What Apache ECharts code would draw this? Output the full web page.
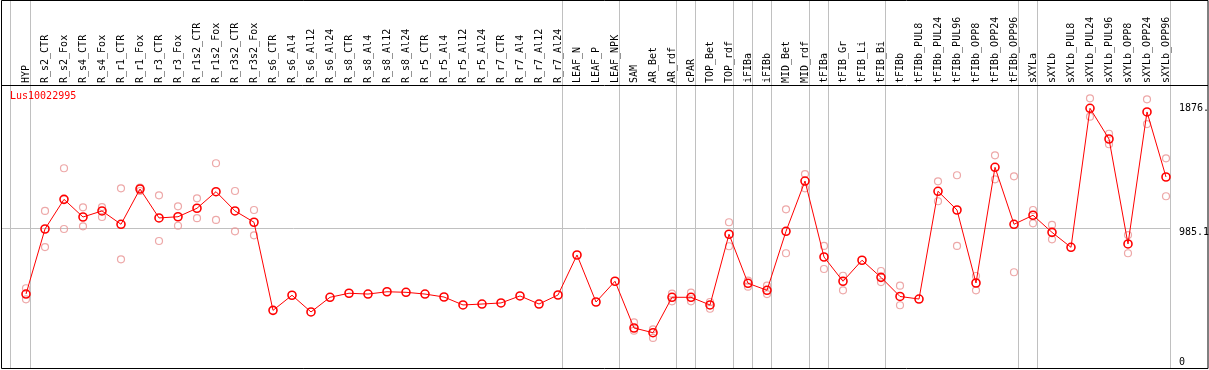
<!DOCTYPE html>
<html>
<head>
<meta charset="utf-8">
<script src="https://cdn.jsdelivr.net/npm/echarts@6/dist/echarts.min.js"></script>
<style>
html,body{margin:0;padding:0;background:#fff;}
#chart{width:1209px;height:370px;}
</style>
</head>
<body>
<div id="chart"></div>
<script>
var seriesName = 'Lus10022995';
var categories = ['HYP','R_s2_CTR','R_s2_Fox','R_s4_CTR','R_s4_Fox','R_r1_CTR','R_r1_Fox','R_r3_CTR','R_r3_Fox','R_r1s2_CTR','R_r1s2_Fox','R_r3s2_CTR','R_r3s2_Fox','R_s6_CTR','R_s6_Al4','R_s6_Al12','R_s6_Al24','R_s8_CTR','R_s8_Al4','R_s8_Al12','R_s8_Al24','R_r5_CTR','R_r5_Al4','R_r5_Al12','R_r5_Al24','R_r7_CTR','R_r7_Al4','R_r7_Al12','R_r7_Al24','LEAF_N','LEAF_P','LEAF_NPK','SAM','AR_Bet','AR_rdf','cPAR','TOP_Bet','TOP_rdf','iFIBa','iFIBb','MID_Bet','MID_rdf','tFIBa','tFIB_Gr','tFIB_Li','tFIB_Bi','tFIBb','tFIBb_PUL8','tFIBb_PUL24','tFIBb_PUL96','tFIBb_OPP8','tFIBb_OPP24','tFIBb_OPP96','sXYLa','sXYLb','sXYLb_PUL8','sXYLb_PUL24','sXYLb_PUL96','sXYLb_OPP8','sXYLb_OPP24','sXYLb_OPP96'];
var means = [497,980,1200,1069,1114,1015,1277,1062,1071,1134,1257,1114,1030,376,488,364,473,503,497,514,510,497,475,416,423,431,483,423,490,787,438,592,245,210,473,473,416,941,577,525,963,1336,772,592,748,621,479,460,1260,1121,579,1438,1015,1082,955,844,1876,1648,869,1849,1366];
var rep1 = [540,1114,1431,1141,1143,1282,1287,1230,1148,1208,1468,1262,1121,null,null,null,null,null,null,null,null,null,null,null,null,null,null,null,null,null,null,null,287,235,500,507,438,1030,596,559,1126,1388,854,633,null,668,559,null,1334,1379,631,1527,1371,1121,1010,null,1950,1687,935,1943,1505];
var rep2 = [458,846,980,1000,1069,755,1262,891,1004,1060,1047,963,933,null,null,null,null,null,null,null,null,null,null,null,null,null,null,null,null,null,null,null,225,171,443,443,388,852,552,497,800,1282,683,525,null,586,414,null,1186,854,525,1349,659,1022,903,null,1814,1609,800,1759,1223];
var tickValues = [0, 985.1, 1876];
var tickLabels = ['0', '985.1', '1876.'];
var separatorsAfter = [-1,0,28,31,34,35,37,38,39,41,42,45,52,53,60];
var refLine = 985.1;

var FONT = 'DejaVu Sans Mono';
var chart = echarts.init(document.getElementById('chart'), null, {renderer:'canvas'});

var repPts = [];
for (var i = 0; i < categories.length; i++) {
  if (rep1[i] != null) repPts.push([categories[i], rep1[i]]);
  if (rep2[i] != null) repPts.push([categories[i], rep2[i]]);
}

var option = {
  animation: false,
  backgroundColor: '#ffffff',
  title: {
    text: seriesName, left: 10, top: 91, padding: 0,
    textStyle: {color: '#ff0000', fontSize: 10, fontWeight: 'normal', fontFamily: FONT}
  },
  grid: {left: 16.5, width: 1159, top: 85, height: 284, containLabel: false, outerBoundsMode: 'none'},
  xAxis: {
    type: 'category', data: categories, position: 'top', boundaryGap: true,
    axisLine: {show: false}, axisTick: {show: false}, splitLine: {show: false},
    axisLabel: {interval: 0, rotate: 90, margin: 2, fontSize: 10, fontFamily: FONT, color: '#000'}
  },
  yAxis: {
    type: 'value', position: 'right', min: -59.4, max: 2049,
    axisLine: {show: false}, axisTick: {show: false}, splitLine: {show: false},
    axisLabel: {
      margin: 3.5, fontSize: 10, fontFamily: FONT, color: '#000', align: 'left',
      customValues: tickValues,
      formatter: function (v) {
        for (var k = 0; k < tickValues.length; k++) {
          if (Math.abs(tickValues[k] - v) < 0.01) {
            return k === 1 ? '{d|' + tickLabels[k] + '}' : (k === 0 ? '{z|' + tickLabels[k] + '}' : tickLabels[k]);
          }
        }
        return '';
      },
      rich: {
        d: {fontSize: 10, fontFamily: FONT, color: '#000', padding: [8, 0, 0, 0]},
        z: {fontSize: 10, fontFamily: FONT, color: '#000', padding: [3, 0, 0, 0]}
      }
    }
  },
  series: [
    {
      type: 'scatter', name: 'reps', data: repPts, symbol: 'circle', symbolSize: 7,
      itemStyle: {color: 'rgba(0,0,0,0)', borderColor: '#e99292', borderWidth: 1.2},
      z: 2, silent: true
    },
    {
      type: 'line', name: seriesName, data: means, symbol: 'circle', symbolSize: 8,
      lineStyle: {color: '#ff0000', width: 1},
      itemStyle: {color: 'rgba(0,0,0,0)', borderColor: '#ff0000', borderWidth: 1.6},
      z: 3, silent: true
    }
  ]
};
chart.setOption(option);

// decorations computed through the chart's own scales
var gfx = [];
var x0 = chart.convertToPixel({xAxisIndex: 0}, categories[0]);
var x1 = chart.convertToPixel({xAxisIndex: 0}, categories[1]);
var xr = x1 - x0;
var sepX = [];
for (var s = 0; s < separatorsAfter.length; s++) {
  var idx = separatorsAfter[s];
  var px = idx < 0 ? x0 - xr - 1 : chart.convertToPixel({xAxisIndex: 0}, categories[idx]);
  var x = Math.round(px + 4.3) + 0.5;
  sepX.push(x);
  gfx.push({type: 'line', id: 'sep' + s, shape: {x1: x, y1: 0, x2: x, y2: 369}, style: {stroke: '#c0c0c0', lineWidth: 1}, z: 0, silent: true});
}
var yRef = Math.round(chart.convertToPixel({yAxisIndex: 0}, refLine)) + 0.5;
gfx.push({type: 'line', id: 'ref', shape: {x1: 1, y1: yRef, x2: sepX[sepX.length - 1], y2: yRef}, style: {stroke: '#c0c0c0', lineWidth: 1}, z: 0, silent: true});
// frame
gfx.push({type: 'rect', id: 'frame', shape: {x: 1.5, y: 0.5, width: 1206.5, height: 368}, style: {fill: null, stroke: '#000', lineWidth: 1}, z: 1, silent: true});
gfx.push({type: 'line', id: 'hdr', shape: {x1: 1, y1: 85.5, x2: 1208, y2: 85.5}, style: {stroke: '#000', lineWidth: 1}, z: 1, silent: true});
chart.setOption({graphic: gfx});
</script>
</body>
</html>
